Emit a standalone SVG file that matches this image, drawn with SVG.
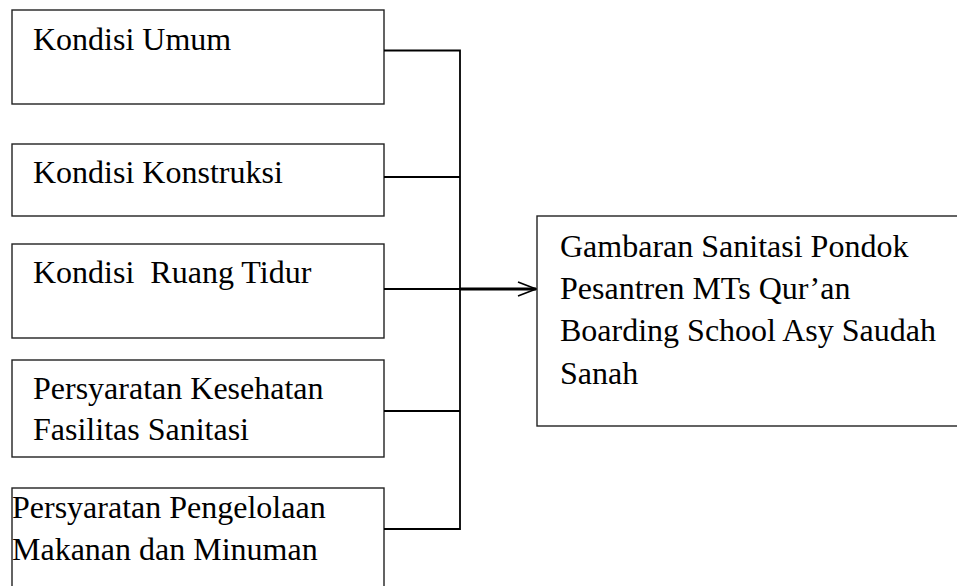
<svg xmlns="http://www.w3.org/2000/svg" width="957" height="586" viewBox="0 0 957 586">
  <style>
    .box { fill: #ffffff; stroke: #222222; stroke-width: 1.4; }
    .lbl { font-family: "Liberation Serif", "Times New Roman", serif; font-size: 32px; fill: #000000; }
    .conn { fill: none; stroke: #000000; stroke-width: 1.8; }
    .main { fill: none; stroke: #000000; stroke-width: 2.8; }
  </style>
  <defs>
    <marker id="arrow" viewBox="0 0 20 16" refX="19" refY="8" markerWidth="20" markerHeight="16" markerUnits="userSpaceOnUse" orient="auto">
      <path d="M1,1 L19,8 L1,15" fill="none" stroke="#000000" stroke-width="1.6"/>
    </marker>
  </defs>
  <rect width="957" height="586" fill="#ffffff"/>

  <g id="node-kondisi-umum">
    <rect class="box" x="12" y="10" width="372" height="94"/>
    <text class="lbl" x="33" y="50">Kondisi Umum</text>
  </g>
  <g id="node-kondisi-konstruksi">
    <rect class="box" x="12" y="144" width="372" height="72"/>
    <text class="lbl" x="33" y="183">Kondisi Konstruksi</text>
  </g>
  <g id="node-kondisi-ruang-tidur">
    <rect class="box" x="12" y="244" width="372" height="94"/>
    <text class="lbl" x="33" y="283" xml:space="preserve">Kondisi  Ruang Tidur</text>
  </g>
  <g id="node-persyaratan-kesehatan">
    <rect class="box" x="12" y="360" width="372" height="97"/>
    <text class="lbl" x="33" y="399">Persyaratan Kesehatan</text>
    <text class="lbl" x="33" y="440">Fasilitas Sanitasi</text>
  </g>
  <g id="node-persyaratan-pengelolaan">
    <rect class="box" x="12" y="488" width="372" height="120"/>
    <text class="lbl" x="12" y="518">Persyaratan Pengelolaan</text>
    <text class="lbl" x="12" y="560">Makanan dan Minuman</text>
  </g>
  <g id="node-gambaran">
    <rect class="box" x="537" y="216" width="440" height="210"/>
    <text class="lbl" x="560" y="257">Gambaran Sanitasi Pondok</text>
    <text class="lbl" x="560" y="299">Pesantren MTs Qur’an</text>
    <text class="lbl" x="560" y="341">Boarding School Asy Saudah</text>
    <text class="lbl" x="560" y="384">Sanah</text>
  </g>

  <g id="connectors">
    <path class="conn" d="M384,50.5 H460 V529 H384"/>
    <path class="conn" d="M384,177 H460"/>
    <path class="conn" d="M384,289 H460"/>
    <path class="conn" d="M384,411 H460"/>
    <path class="main" d="M460,289 H536" marker-end="url(#arrow)"/>
  </g>
</svg>
